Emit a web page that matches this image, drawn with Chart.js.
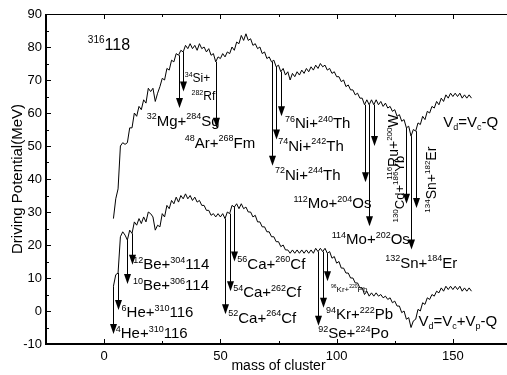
<!DOCTYPE html>
<html>
<head>
<meta charset="utf-8">
<script src="https://cdn.jsdelivr.net/npm/chart.js@4.4.1/dist/chart.umd.min.js"></script>
<style>
  html, body { margin: 0; padding: 0; background: #fff; overflow: hidden; }
  #wrap { width: 507px; height: 375px; overflow: hidden; }
</style>
</head>
<body>
<div id="wrap"><canvas id="driving" width="520" height="375"></canvas></div>
<script>
// cluster mass runs 4..158, one value per mass
const firstMass = 4;
const lastMass = 158;

// V_d = V_c - Q  (upper curve)
const vdUpper = [
  28, 34, 37, 50, 51, 50.5, 51, 55.5, 55.5, 60,        // 4-13
  59, 62, 61, 64, 63, 67.5, 66.5, 67.5, 63.5, 66,      // 14-23
  68, 70.5, 70, 73.5, 73, 76, 75.5, 78, 77.5, 79,      // 24-33
  78.5, 80.5, 79.5, 81, 79.5, 80.5, 79, 81, 79.5, 80,  // 34-43
  78.5, 79.5, 77.5, 78, 75.5, 77, 76.5, 78, 77, 78.5,  // 44-53
  78, 80, 79, 81.5, 81, 83.5, 82, 84, 82, 82.5,        // 54-63
  80.5, 81, 79.5, 80, 78, 78.5, 76.5, 77, 75.5, 76,    // 64-73
  74, 74.5, 72.5, 73.5, 71.5, 72.5, 70, 72, 71, 72.5,  // 74-83
  71.5, 73, 72, 73.5, 72.5, 74, 73, 74.5, 73.5, 75,    // 84-93
  74, 74.5, 73, 73.5, 72, 72.5, 71, 71, 69.5, 70,      // 94-103
  68, 68.5, 67, 67, 65.5, 66, 64.5, 64.5, 62.5, 64,    // 104-113
  62.5, 64, 62.5, 64, 62.5, 63.5, 62, 63, 61.5, 62,    // 114-123
  60.5, 61, 59, 59.5, 57.5, 58, 55.5, 56, 53, 55,      // 124-133
  54.5, 57, 56.5, 59, 58, 60.5, 60, 62, 61.5, 63.5,    // 134-143
  62.5, 64.5, 63.5, 65.5, 64.5, 66, 65, 66, 65, 66,    // 144-153
  64.5, 65.5, 64.5, 65.5, 64.5                          // 154-158
];

// V_d = V_c + V_p - Q  (lower curve)
const vdLower = [
  7.5, 11, 11.5, 22.5, 24, 23, 21.5, 24.5, 23.5, 27,   // 4-13
  26, 28, 26.5, 28.5, 27, 30, 29.5, 28.5, 24.5, 26,    // 14-23
  25.5, 29.5, 28.5, 32, 31, 33.5, 32.5, 34.5, 33, 35,  // 24-33
  34, 35.5, 34, 35, 33.5, 34.5, 33, 33.5, 32, 32,      // 34-43
  30.5, 30.5, 29, 29.5, 28.5, 29.5, 28.5, 29.5, 28, 30,// 44-53
  29.5, 32, 31.5, 32.5, 31, 32.5, 31, 31.5, 30, 30,    // 54-63
  28.5, 29, 27, 27, 25.5, 25.5, 24, 24, 22.5, 22.5,    // 64-73
  21, 21, 19.5, 20, 18.5, 18.5, 17.5, 18.5, 17.5, 18.5,// 74-83
  17.5, 18.5, 17.5, 18.5, 17.5, 18.5, 17.5, 19, 18, 19,// 84-93
  18, 19, 17.5, 18, 16, 16.5, 14.5, 15, 13, 13,        // 94-103
  11.5, 11.5, 10, 10, 8.5, 8.5, 7, 7, 5, 6,            // 104-113
  4.5, 5.5, 4.5, 5.5, 4.5, 5, 4, 4.5, 3.5, 4,          // 114-123
  2.5, 3, 1.5, 1.5, -0.5, 0, -2.5, -2, -5, -3,         // 124-133
  -2.5, 0.5, 0, 2.5, 2, 4, 3.5, 5, 4.5, 6,             // 134-143
  5.5, 7, 6, 7.5, 6.5, 7.5, 6.5, 7.5, 6.5, 7.5,        // 144-153
  6, 7, 6, 7, 6                                         // 154-158
];

const xTickValues = [0, 50, 100, 150];

// decay arrows: mass, end of arrow (MeV)
const upperArrowMass = [32, 34, 48, 72, 74, 76, 112, 114, 116, 130, 132, 134];
const upperArrowEnd  = [61.5, 66.5, 55.5, 44, 52, 59, 39, 25.7, 50, 32.5, 18.6, 31.2];
const lowerArrowMass = [4, 6, 10, 12, 52, 54, 56, 92, 94, 96];
const lowerArrowEnd  = [-7, 0.3, 8.2, 14, -1, 6, 15, -4.5, 1, 9];

// text labels, ^{..} superscript, _{..} subscript
const labelText = [
  "^{316}118", "^{34}Si+", "^{282}Rf", "^{32}Mg+^{284}Sg", "^{48}Ar+^{268}Fm",
  "^{76}Ni+^{240}Th", "^{74}Ni+^{242}Th", "^{72}Ni+^{244}Th",
  "^{112}Mo+^{204}Os", "^{114}Mo+^{202}Os", "^{132}Sn+^{184}Er",
  "^{116}Ru+^{200}W", "^{130}Cd+^{186}Yb", "^{134}Sn+^{182}Er",
  "V_{d}=V_{c}-Q",
  "^{12}Be+^{304}114", "^{10}Be+^{306}114", "^{6}He+^{310}116", "^{4}He+^{310}116",
  "^{56}Ca+^{260}Cf", "^{54}Ca+^{262}Cf", "^{52}Ca+^{264}Cf",
  "^{96}Kr+^{220}Pb", "^{94}Kr+^{222}Pb", "^{92}Se+^{224}Po",
  "V_{d}=V_{c}+V_{p}-Q"
];
const labelMass = [
  -7, 34.7, 37.6, 18.3, 34.7,
  77.8, 74.9, 73.5,
  81.4, 97.9, 120.9,
  126.2, 128.9, 142.6,
  145.9,
  12.5, 12.4, 7.5, 5,
  57.3, 55.5, 53.4,
  97.6, 95.4, 92.1,
  135.2
];
const labelValue = [
  79.1, 69.5, 64, 56.2, 49.5,
  55.4, 48.6, 39.8,
  31.2, 20.2, 13.1,
  39.8, 26.8, 29.8,
  55.9,
  12.6, 6.3, -1.8, -8.3,
  12.8, 4.1, -3.5,
  5.9, -2.5, -8.3,
  -4.5
];
const labelSize = [
  16, 12, 12, 15, 15,
  15, 15, 15,
  15, 15, 15,
  14, 13, 14,
  15,
  15, 15, 15, 15,
  15, 15, 15,
  8, 15, 15,
  15
];
const labelRotated = [
  false, false, false, false, false,
  false, false, false,
  false, false, false,
  true, true, true,
  false,
  false, false, false, false,
  false, false, false,
  false, false, false,
  false
];

const fontFamily = '"Liberation Sans", Arial, sans-serif';

function toPoints(values) {
  return values.map((v, i) => ({ x: firstMass + i, y: v }));
}

function valueAt(values, mass) {
  return values[mass - firstMass];
}

function drawRich(ctx, text, x, y, size) {
  const parts = text.match(/\^\{[^}]*\}|_\{[^}]*\}|[^\^_]+/g);
  const small = Math.round(size * 0.6);
  let cx = x;
  parts.forEach((p) => {
    if (p[0] === "^") {
      const t = p.slice(2, -1);
      ctx.font = `${small}px ${fontFamily}`;
      ctx.fillText(t, cx, y - size * 0.42);
      cx += ctx.measureText(t).width;
    } else if (p[0] === "_") {
      const t = p.slice(2, -1);
      ctx.font = `${small}px ${fontFamily}`;
      ctx.fillText(t, cx, y + size * 0.2);
      cx += ctx.measureText(t).width;
    } else {
      ctx.font = `${size}px ${fontFamily}`;
      ctx.fillText(p, cx, y);
      cx += ctx.measureText(p).width;
    }
  });
}

function drawArrow(ctx, px, y1, y2) {
  ctx.beginPath();
  ctx.moveTo(px, y1);
  ctx.lineTo(px, y2 - 6);
  ctx.stroke();
  ctx.beginPath();
  ctx.moveTo(px - 3.5, y2 - 10);
  ctx.lineTo(px + 3.5, y2 - 10);
  ctx.lineTo(px, y2);
  ctx.closePath();
  ctx.fill();
}

const decorations = {
  id: "decorations",
  afterDatasetsDraw(chart) {
    const ctx = chart.ctx;
    const xs = chart.scales.x;
    const ys = chart.scales.y;
    const a = chart.chartArea;
    ctx.save();
    ctx.strokeStyle = "#000";
    ctx.fillStyle = "#000";

    // arrows
    ctx.lineWidth = 1;
    upperArrowMass.forEach((m, i) => {
      const px = Math.round(xs.getPixelForValue(m)) + 0.5;
      drawArrow(ctx, px, ys.getPixelForValue(valueAt(vdUpper, m)), ys.getPixelForValue(upperArrowEnd[i]));
    });
    lowerArrowMass.forEach((m, i) => {
      const px = Math.round(xs.getPixelForValue(m)) + 0.5;
      drawArrow(ctx, px, ys.getPixelForValue(valueAt(vdLower, m)), ys.getPixelForValue(lowerArrowEnd[i]));
    });

    // labels
    ctx.textBaseline = "alphabetic";
    ctx.textAlign = "left";
    labelText.forEach((t, i) => {
      const px = xs.getPixelForValue(labelMass[i]);
      const py = ys.getPixelForValue(labelValue[i]);
      if (labelRotated[i]) {
        ctx.save();
        ctx.translate(px, py);
        ctx.rotate(-Math.PI / 2);
        drawRich(ctx, t, 0, 0, labelSize[i]);
        ctx.restore();
      } else {
        drawRich(ctx, t, px, py, labelSize[i]);
      }
    });

    // frame
    ctx.lineWidth = 2;
    ctx.beginPath();
    ctx.moveTo(a.left, a.top);
    ctx.lineTo(a.left, a.bottom);
    ctx.lineTo(a.right + 5, a.bottom);
    ctx.stroke();
    ctx.lineWidth = 1;
    ctx.beginPath();
    ctx.moveTo(a.left, a.top + 0.5);
    ctx.lineTo(a.right + 5, a.top + 0.5);
    ctx.stroke();

    // inward ticks
    for (let v = -5; v <= 85; v += 5) {
      const py = Math.round(ys.getPixelForValue(v)) + 0.5;
      const len = v % 10 === 0 ? 5 : 3;
      ctx.beginPath();
      ctx.moveTo(a.left, py);
      ctx.lineTo(a.left + len, py);
      ctx.stroke();
    }
    for (let v = 0; v <= 175; v += 25) {
      const px = Math.round(xs.getPixelForValue(v)) + 0.5;
      const len = v % 50 === 0 ? 5 : 3;
      ctx.beginPath();
      ctx.moveTo(px, a.bottom);
      ctx.lineTo(px, a.bottom - len);
      ctx.moveTo(px, a.top);
      ctx.lineTo(px, a.top + len);
      ctx.stroke();
    }
    ctx.restore();
  }
};

new Chart(document.getElementById("driving"), {
  type: "line",
  data: {
    datasets: [
      {
        label: "Vd=Vc-Q",
        data: toPoints(vdUpper),
        borderColor: "#000",
        borderWidth: 1,
        pointRadius: 0,
        tension: 0,
        fill: false,
      },
      {
        label: "Vd=Vc+Vp-Q",
        data: toPoints(vdLower),
        borderColor: "#000",
        borderWidth: 1,
        pointRadius: 0,
        tension: 0,
        fill: false,
      },
    ],
  },
  options: {
    responsive: false,
    animation: false,
    layout: { padding: { top: 14, right: 9, left: 0, bottom: 0 } },
    plugins: { legend: { display: false }, tooltip: { enabled: false } },
    scales: {
      x: {
        type: "linear",
        min: -25,
        max: 175,
        afterBuildTicks: (scale) => {
          scale.ticks = xTickValues.map((v) => ({ value: v }));
        },
        afterFit: (scale) => { scale.height = 31; },
        grid: { display: false, drawTicks: false },
        border: { display: false },
        ticks: { color: "#000", padding: 5, maxRotation: 0, font: { family: fontFamily, size: 13 } },
        title: {
          display: true,
          text: "mass of cluster",
          color: "#000",
          padding: { top: 0, bottom: 0 },
          font: { family: fontFamily, size: 14 },
        },
      },
      y: {
        min: -10,
        max: 90,
        afterFit: (scale) => { scale.width = 46; },
        grid: { display: false, drawTicks: false },
        border: { display: false },
        ticks: { color: "#000", stepSize: 10, padding: 4, font: { family: fontFamily, size: 13 } },
        title: {
          display: true,
          text: "Driving Potential(MeV)",
          color: "#000",
          padding: { top: 9, bottom: 0 },
          font: { family: fontFamily, size: 15 },
        },
      },
    },
  },
  plugins: [decorations],
});
</script>
</body>
</html>
